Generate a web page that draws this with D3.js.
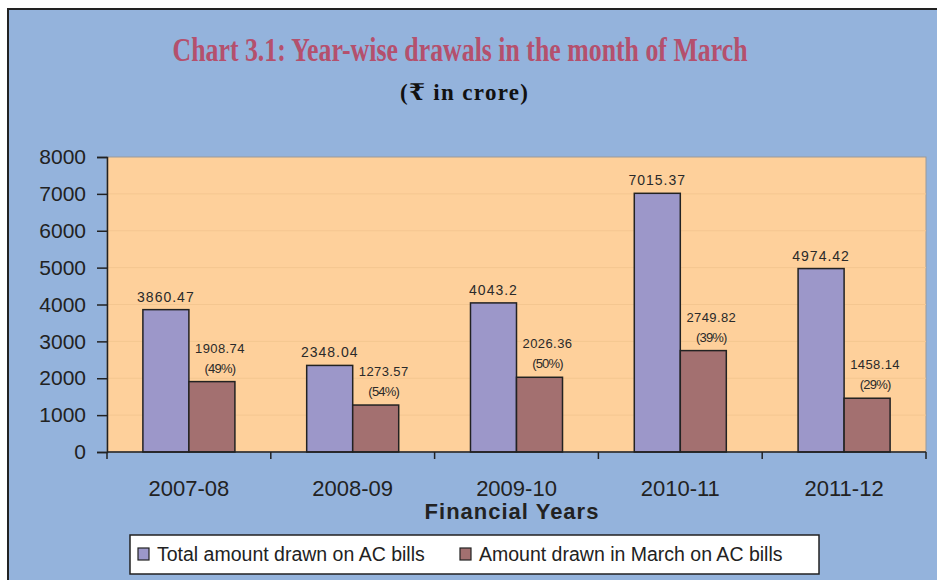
<!DOCTYPE html>
<html>
  <head>
    <meta charset="utf-8">
    <title>Year-wise drawals in March</title>
    <script src="https://d3js.org/d3.v7.min.js"></script>
    <style>
      body { margin: 0; background: #fff; }
      text { font-family: "Liberation Sans", Arial, sans-serif; }
    </style>
  </head>
  <body>
    <div id="chart"></div>
    <script>
      // chart data
      const years = ['2007-08', '2008-09', '2009-10', '2010-11', '2011-12'];
      const seriesNames = ['Total amount drawn on AC bills', 'Amount drawn in March on AC bills'];
      const totalDrawn = [3860.47, 2348.04, 4043.2, 7015.37, 4974.42];
      const marchDrawn = [1908.74, 1273.57, 2026.36, 2749.82, 1458.14];
      const marchShare = ['(49%)', '(54%)', '(50%)', '(39%)', '(29%)'];
      const yTicks = [0, 1000, 2000, 3000, 4000, 5000, 6000, 7000, 8000];

      const width = 937, height = 580;
      const colors = ['#9c97c9', '#a37070'];

      const svg = d3.select('#chart').append('svg')
          .attr('width', width)
          .attr('height', height);

      // outer panel
      svg.append('rect')
          .attr('x', 8).attr('y', 9)
          .attr('width', 940).attr('height', 590)
          .attr('fill', '#94b3dc')
          .attr('stroke', '#222')
          .attr('stroke-width', 2);

      svg.append('text')
          .attr('x', 460).attr('y', 61)
          .attr('text-anchor', 'middle')
          .attr('textLength', 575)
          .attr('lengthAdjust', 'spacingAndGlyphs')
          .style('font-family', '"Liberation Serif", "DejaVu Serif", serif')
          .style('font-weight', 'bold')
          .style('font-size', '33px')
          .attr('fill', '#b4506d')
          .text('Chart 3.1: Year-wise drawals in the month of March');

      svg.append('text')
          .attr('x', 464).attr('y', 100)
          .attr('text-anchor', 'middle')
          .attr('textLength', 128)
          .attr('lengthAdjust', 'spacing')
          .style('font-family', '"Liberation Serif", "DejaVu Serif", serif')
          .style('font-weight', 'bold')
          .style('font-size', '23px')
          .attr('fill', '#111')
          .text('(\u20b9  in crore)');

      const plot = { left: 107, right: 926, top: 157, bottom: 452 };

      const x = d3.scaleBand()
          .domain(years)
          .range([plot.left, plot.right]);
      const xSub = d3.scaleBand()
          .domain(seriesNames)
          .range([0, x.bandwidth()])
          .paddingOuter(0.78);
      const y = d3.scaleLinear()
          .domain([0, 8000])
          .range([plot.bottom, plot.top]);

      // plot background + grid
      svg.append('rect')
          .attr('x', plot.left).attr('y', plot.top)
          .attr('width', plot.right - plot.left)
          .attr('height', plot.bottom - plot.top)
          .attr('fill', '#fed09b')
          .attr('stroke', '#9a9a9a')
          .attr('stroke-width', 1);

      svg.append('g').selectAll('line')
          .data(yTicks.filter(d => d > 0 && d < 8000))
          .join('line')
          .attr('x1', plot.left).attr('x2', plot.right)
          .attr('y1', d => y(d)).attr('y2', d => y(d))
          .attr('stroke', '#f4c690')
          .attr('stroke-width', 1);

      // bars
      const rows = years.map((yr, i) => ({
        year: yr,
        vals: [totalDrawn[i], marchDrawn[i]],
        pct: marchShare[i]
      }));

      const groups = svg.append('g').selectAll('g')
          .data(rows)
          .join('g')
          .attr('transform', d => `translate(${x(d.year)},0)`);

      groups.selectAll('rect')
          .data(d => d.vals.map((v, j) => ({ name: seriesNames[j], v: v, j: j })))
          .join('rect')
          .attr('x', d => xSub(d.name))
          .attr('y', d => y(d.v))
          .attr('width', xSub.bandwidth())
          .attr('height', d => y(0) - y(d.v))
          .attr('fill', d => colors[d.j])
          .attr('stroke', '#222')
          .attr('stroke-width', 1.5);

      // labels on total bars
      groups.append('text')
          .attr('x', xSub(seriesNames[0]) + xSub.bandwidth() / 2)
          .attr('y', d => y(d.vals[0]) - 8)
          .attr('text-anchor', 'middle')
          .style('font-size', '14px')
          .style('letter-spacing', '1px')
          .attr('fill', '#2a2a2a')
          .text(d => d.vals[0]);

      // labels on march bars
      groups.append('text')
          .attr('x', xSub(seriesNames[1]) + xSub.bandwidth() / 2 + 8)
          .attr('y', d => y(d.vals[1]) - 29)
          .attr('text-anchor', 'middle')
          .style('font-size', '13px')
          .style('letter-spacing', '0.4px')
          .attr('fill', '#2a2a2a')
          .text(d => d.vals[1]);

      groups.append('text')
          .attr('x', xSub(seriesNames[1]) + xSub.bandwidth() / 2 + 8)
          .attr('y', d => y(d.vals[1]) - 9)
          .attr('text-anchor', 'middle')
          .style('font-size', '13px')
          .style('letter-spacing', '-0.8px')
          .attr('fill', '#2a2a2a')
          .text(d => d.pct);

      // axes
      const yAxis = d3.axisLeft(y)
          .tickValues(yTicks)
          .tickSize(10)
          .tickPadding(11)
          .tickFormat(d3.format('d'));

      const yAxisG = svg.append('g')
          .attr('transform', `translate(${plot.left},0)`)
          .call(yAxis);
      yAxisG.select('.domain').attr('stroke', '#222').attr('stroke-width', 1.5);
      yAxisG.selectAll('.tick line').attr('stroke', '#222').attr('stroke-width', 1.5);
      yAxisG.selectAll('.tick text')
          .style('font-size', '21px')
          .style('font-family', '"Liberation Sans", Arial, sans-serif')
          .attr('fill', '#222');

      // category boundaries as ticks on the x axis
      const xAxisG = svg.append('g');
      xAxisG.append('line')
          .attr('x1', plot.left).attr('x2', plot.right)
          .attr('y1', plot.bottom).attr('y2', plot.bottom)
          .attr('stroke', '#222').attr('stroke-width', 1.5);
      xAxisG.selectAll('line.tk')
          .data(years.concat(['end']))
          .join('line')
          .attr('class', 'tk')
          .attr('x1', d => d === 'end' ? plot.right : x(d))
          .attr('x2', d => d === 'end' ? plot.right : x(d))
          .attr('y1', plot.bottom).attr('y2', plot.bottom + 7)
          .attr('stroke', '#222').attr('stroke-width', 1.5);
      xAxisG.selectAll('text')
          .data(years)
          .join('text')
          .attr('x', d => x(d) + x.bandwidth() / 2)
          .attr('y', 496)
          .attr('text-anchor', 'middle')
          .style('font-size', '22px')
          .attr('fill', '#222')
          .text(d => d);

      svg.append('text')
          .attr('x', 512).attr('y', 519)
          .attr('text-anchor', 'middle')
          .style('font-size', '22px')
          .style('font-weight', 'bold')
          .style('letter-spacing', '1px')
          .attr('fill', '#222')
          .text('Financial Years');

      // legend
      const legend = svg.append('g');
      legend.append('rect')
          .attr('x', 130).attr('y', 535)
          .attr('width', 689).attr('height', 39)
          .attr('fill', '#fff')
          .attr('stroke', '#222')
          .attr('stroke-width', 1.5);

      const legendX = [138, 460];
      const items = legend.selectAll('g')
          .data(seriesNames)
          .join('g')
          .attr('transform', (d, i) => `translate(${legendX[i]},548)`);
      items.append('rect')
          .attr('width', 11).attr('height', 12)
          .attr('fill', (d, i) => colors[i])
          .attr('stroke', '#222')
          .attr('stroke-width', 1.2);
      items.append('text')
          .attr('x', 19).attr('y', 13)
          .style('font-size', '19.5px')
          .attr('fill', '#222')
          .text(d => d);
    </script>
  </body>
</html>
